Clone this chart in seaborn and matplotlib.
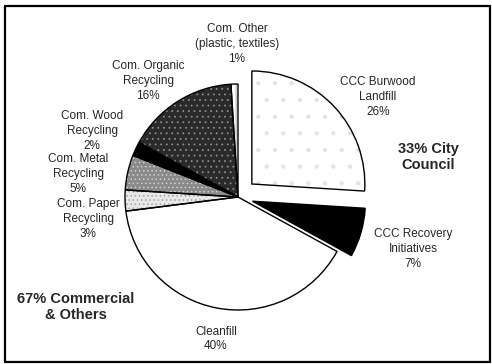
import matplotlib
matplotlib.use("Agg")
import matplotlib.pyplot as plt
import seaborn as sns
from matplotlib.lines import Line2D

sns.set_theme(style="white")
plt.rcParams['font.family'] = ['Liberation Sans', 'DejaVu Sans']
plt.rcParams['hatch.linewidth'] = 0.6

# ---- data ----
categories = ["CCC Burwood\nLandfill", "CCC Recovery\nInitiatives", "Cleanfill",
              "Com. Paper\nRecycling", "Com. Metal\nRecycling", "Com. Wood\nRecycling",
              "Com. Organic\nRecycling", "Com. Other\n(plastic, textiles)"]
shares = [26, 7, 40, 3, 5, 2, 16, 1]
group_labels = ["33% City\nCouncil", "67% Commercial\n& Others"]

# ---- styles ----
faces = ["white", "black", "white", "#e8e8e8", "#8a8a8a", "black", "#2a2a2a", "white"]
hatch_cols = ["#e2e2e2", "black", "white", "#a0a0a0", "#d0d0d0", "black", "#8c8c8c", "#999999"]
hatches = [".", None, None, "....", "....", None, "...", "|||"]
explode = [19, 15, 0, 0, 0, 0, 0, 0]

W, H = 492, 364
fig = plt.figure(figsize=(W / 100, H / 100), dpi=100)
ax = fig.add_axes([0, 0, 1, 1])

def py(y):
    return H - y

center = (238, py(197))
R = 113

# fill layer (hatches drawn in hatch colour)
wedges, _ = ax.pie(shares, startangle=90, counterclock=False, center=center,
                   radius=R, explode=explode,
                   wedgeprops=dict(linewidth=0))
for w, fc, hc, ht in zip(wedges, faces, hatch_cols, hatches):
    w.set_facecolor(fc)
    w.set_edgecolor(hc)
    if ht:
        w.set_hatch(ht)
# outline layer
wedges2, _ = ax.pie(shares, startangle=90, counterclock=False, center=center,
                    radius=R, explode=explode,
                    wedgeprops=dict(facecolor="none", edgecolor="black", linewidth=1.0))

ax.set_xlim(0, W)
ax.set_ylim(0, H)
ax.set_aspect("auto")
ax.axis("off")

fs = 8.5
label_pos = [(378, 97), (413, 249), (216, 339), (88, 219), (78, 174),
             (92, 131), (148, 81), (237, 44)]
for cat, val, (x, y) in zip(categories, shares, label_pos):
    ax.text(x, py(y), f"{cat}\n{val}%", ha="center", va="center",
            fontsize=fs, linespacing=1.3)

ax.text(428, py(157), group_labels[0], ha="center", va="center",
        fontsize=10.5, fontweight="bold", linespacing=1.25)
ax.text(76, py(307), group_labels[1], ha="center", va="center",
        fontsize=10.5, fontweight="bold", linespacing=1.25)

# frame
for xs, ys in [((5, 5), (6, 362)), ((5, 490), (6, 6)), ((5, 490), (362, 362)),
               ((490, 490), (6, 362))]:
    fig.add_artist(Line2D([x / W for x in xs], [1 - y / H for y in ys],
                          color="black", linewidth=1.6))

fig.savefig("out.png", dpi=100)
